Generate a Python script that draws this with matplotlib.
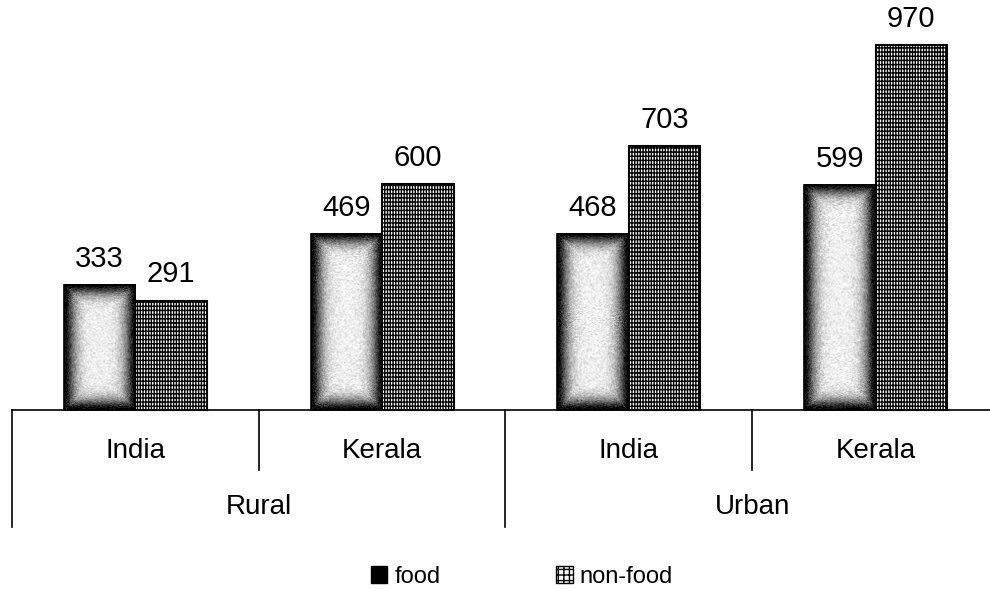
import numpy as np
import matplotlib.pyplot as plt
from matplotlib.patches import Patch

plt.rcParams['font.family'] = ['Liberation Sans', 'DejaVu Sans']
plt.rcParams['hatch.linewidth'] = 1.0

regions = ['Rural', 'Urban']
states = ['India', 'Kerala', 'India', 'Kerala']
food = [333, 469, 468, 599]
non_food = [291, 600, 703, 970]

bar_w = 0.29
px_per_unit = 0.376  # pixels per rupee at dpi 100

fig = plt.figure(figsize=(9.9, 5.89), dpi=100)
ax = fig.add_axes([0, 0, 1, 1])
ax.set_xlim(-0.5486, 3.464)
ax.set_ylim(-476, 1090)
ax.axis('off')

rng = np.random.default_rng(7)


def shaded_bar(x0, height):
    # dark rim fading to a light speckled centre
    w_px = int(bar_w * 246.7)
    h_px = max(int(height * px_per_unit), 2)
    yy, xx = np.mgrid[0:h_px, 0:w_px]
    d = np.minimum.reduce([xx, w_px - 1 - xx, yy, h_px - 1 - yy]).astype(float)
    img = 0.95 - 0.95 * np.exp(-(d / 11.0) ** 1.6)
    img += rng.normal(0, 0.07, img.shape)
    img = np.clip(img, 0, 1)
    ax.imshow(img, cmap='gray', vmin=0, vmax=1, aspect='auto',
              extent=(x0, x0 + bar_w, 0, height), interpolation='bilinear',
              zorder=2)
    ax.add_patch(plt.Rectangle((x0, 0), bar_w, height, fill=False,
                               edgecolor='black', lw=1.2, zorder=3))


x = np.arange(len(states))
for i in x:
    shaded_bar(i - bar_w, food[i])
ax.bar(x + bar_w / 2, non_food, bar_w, facecolor='white', edgecolor='black',
       hatch='++++||', lw=1.5, zorder=2)

for i in x:
    ax.annotate(str(food[i]), (i - bar_w / 2, food[i]), xytext=(0, 13),
                textcoords='offset points', ha='center', va='baseline',
                fontsize=21)
    ax.annotate(str(non_food[i]), (i + bar_w / 2, non_food[i]), xytext=(0, 13),
                textcoords='offset points', ha='center', va='baseline',
                fontsize=21)

# category table under the baseline
row1 = -160
row2 = -310
ax.plot([-0.5, 3.6], [0, 0], color='black', lw=1.2, zorder=4)
ax.plot([-0.5, -0.5], [0, row2], color='black', lw=1.2)
ax.plot([1.5, 1.5], [0, row2], color='black', lw=1.2)
for xd in (0.5, 2.5):
    ax.plot([xd, xd], [0, row1], color='black', lw=1.2)

for i, s in enumerate(states):
    ax.text(i, -110, s, ha='center', va='center', fontsize=20)
for j, r in enumerate(regions):
    ax.text(0.5 + 2 * j, -257, r, ha='center', va='center', fontsize=20)

handles = [Patch(facecolor='black', edgecolor='black'),
           Patch(facecolor='white', edgecolor='black', hatch='+++')]
fig.legend(handles, ['food', 'non-food'], loc='center',
           bbox_to_anchor=(0.527, 1 - 577 / 589), ncol=2, frameon=False,
           fontsize=17, handlelength=0.7, handleheight=0.7,
           handletextpad=0.3, columnspacing=4.9)

fig.savefig('out.png', dpi=100)
